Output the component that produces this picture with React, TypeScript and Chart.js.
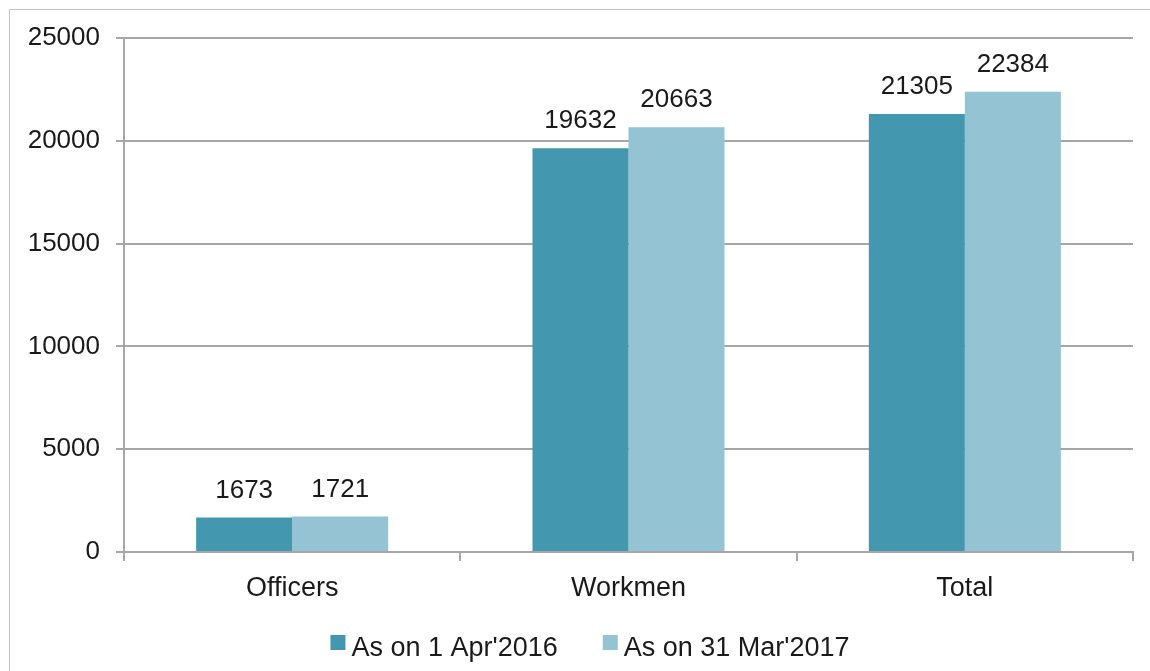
import React, { useEffect, useRef } from "react";
import { Chart, registerables } from "chart.js";

Chart.register(...registerables);

const categories = ["Officers", "Workmen", "Total"];
const seriesNames = ["As on 1 Apr'2016", "As on 31 Mar'2017"];
const apr2016 = [1673, 19632, 21305];
const mar2017 = [1721, 20663, 22384];
const yTicks = [0, 5000, 10000, 15000, 20000, 25000];

const DARK = "#4398b0";
const LIGHT = "#94c3d4";
const GRID = "#a6a6a6";
const FONT = "'Liberation Sans', Arial, sans-serif";

const valueLabels = {
  id: "valueLabels",
  afterDatasetsDraw(chart: any) {
    const ctx = chart.ctx;
    ctx.save();
    ctx.font = `26px ${FONT}`;
    ctx.fillStyle = "#1a1a1a";
    ctx.textAlign = "center";
    ctx.textBaseline = "alphabetic";
    chart.data.datasets.forEach((ds: any, i: number) => {
      const meta = chart.getDatasetMeta(i);
      meta.data.forEach((bar: any, j: number) => {
        ctx.fillText(String(ds.data[j]), bar.x, bar.y - 20);
      });
    });
    ctx.restore();
  },
};

const customLegend = {
  id: "customLegend",
  afterDraw(chart: any) {
    const ctx = chart.ctx;
    ctx.save();
    ctx.font = `27px ${FONT}`;
    ctx.textBaseline = "alphabetic";
    ctx.textAlign = "left";
    const box = 15;
    const boxGap = 6;
    const itemGap = 45;
    const items = chart.data.datasets.map((ds: any) => ({
      text: ds.label,
      color: ds.backgroundColor,
      w: box + boxGap + ctx.measureText(ds.label).width,
    }));
    const total = items.reduce((s: number, it: any) => s + it.w, 0) + itemGap * (items.length - 1);
    let x = chart.width / 2 + 10 - total / 2;
    const boxTop = 625;
    const baseline = 646;
    items.forEach((it: any) => {
      ctx.fillStyle = it.color;
      ctx.fillRect(x, boxTop, box, box);
      ctx.fillStyle = "#1a1a1a";
      ctx.fillText(it.text, x + box + boxGap, baseline);
      x += it.w + itemGap;
    });
    ctx.restore();
  },
};

export default function App() {
  const ref = useRef<HTMLCanvasElement | null>(null);

  useEffect(() => {
    if (!ref.current) return;
    const chart = new Chart(ref.current, {
      type: "bar",
      data: {
        labels: categories,
        datasets: [
          { label: seriesNames[0], data: apr2016, backgroundColor: DARK, borderWidth: 0 },
          { label: seriesNames[1], data: mar2017, backgroundColor: LIGHT, borderWidth: 0 },
        ],
      },
      options: {
        animation: false,
        responsive: false,
        maintainAspectRatio: false,
        layout: { padding: { top: 28, right: 17, left: 0, bottom: 0 } },
        datasets: { bar: { categoryPercentage: 0.571, barPercentage: 1.0 } } as any,
        plugins: {
          legend: { display: false },
          tooltip: { enabled: false },
        },
        scales: {
          x: {
            afterFit: (scale: any) => {
              scale.height = 119;
              scale.paddingLeft = 0;
              scale.paddingRight = 0;
            },
            grid: {
              display: true,
              drawOnChartArea: false,
              drawTicks: true,
              tickLength: 9,
              color: GRID,
              lineWidth: 2,
            },
            border: { display: true, color: GRID, width: 2 },
            ticks: {
              color: "#1a1a1a",
              font: { family: FONT, size: 27 },
              padding: 11,
            },
          },
          y: {
            min: 0,
            max: 25000,
            afterFit: (scale: any) => {
              scale.width = 114;
              scale.paddingTop = 0;
              scale.paddingBottom = 0;
            },
            afterBuildTicks: (scale: any) => {
              scale.ticks = yTicks.map((v) => ({ value: v }));
            },
            grid: {
              display: true,
              drawTicks: true,
              tickLength: 8,
              color: GRID,
              lineWidth: 2,
            },
            border: { display: true, color: GRID, width: 2 },
            ticks: {
              color: "#1a1a1a",
              font: { family: FONT, size: 26 },
              padding: 16,
              callback: (v: any) => String(v),
            },
          },
        },
      },
      plugins: [valueLabels, customLegend],
    });
    return () => chart.destroy();
  }, []);

  return (
    <div
      style={{
        position: "absolute",
        left: 9,
        top: 9,
        width: 1141,
        height: 662,
        borderTop: "1px solid #c4c4c4",
        borderLeft: "1px solid #c4c4c4",
        boxSizing: "border-box",
        overflow: "hidden",
        background: "#fff",
      }}
    >
      <canvas ref={ref} width={1140} height={661} style={{ display: "block" }} />
    </div>
  );
}
